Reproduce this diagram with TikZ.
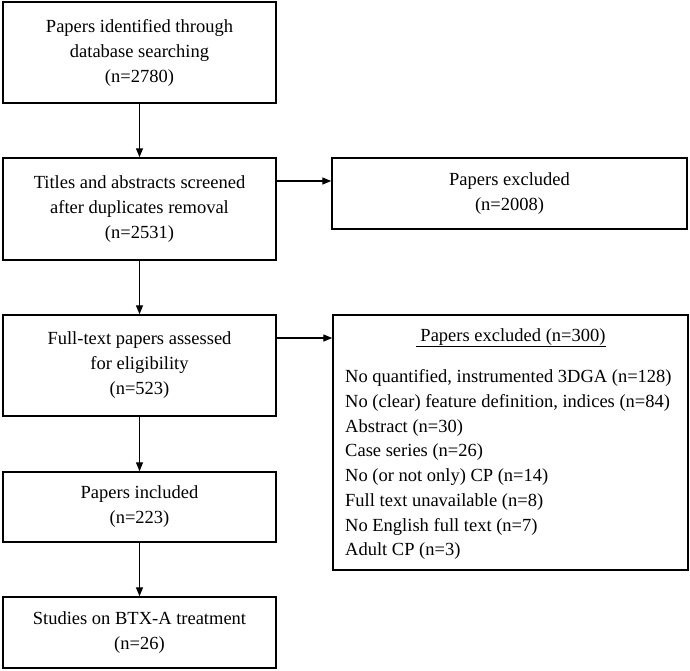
\documentclass[tikz,border=0pt]{standalone}
\usepackage{fontspec}
\setmainfont{Liberation Serif}
\usetikzlibrary{arrows.meta}
\begin{document}
\begin{tikzpicture}[x=1pt,y=-1pt,
  box/.style={draw, line width=1.5pt, rectangle, inner sep=0pt, align=center,
    font=\fontsize{18.5}{25}\selectfont},
  listtext/.style={inner sep=0pt, align=left, font=\fontsize{18.5}{24.7}\selectfont},
  arr/.style={-{Triangle[length=9pt,width=7pt]}, line width=1.4pt}]
\useasboundingbox (0,0) rectangle (690,670);
\node[box, minimum width=273pt, minimum height=101pt] (b1) at (139.5,52.5)
  {Papers identified through\\database searching\\(n=2780)};
\node[box, minimum width=273pt, minimum height=102pt] (b2) at (139.5,209)
  {Titles and abstracts screened\\after duplicates removal\\(n=2531)};
\node[box, minimum width=355pt, minimum height=71pt] (b3) at (509.5,193.5)
  {Papers excluded\\(n=2008)};
\node[box, minimum width=273pt, minimum height=101pt] (b4) at (139.5,365.5)
  {Full-text papers assessed\\for eligibility\\(n=523)};
\node[box, minimum width=355pt, minimum height=255pt] (b5) at (510.5,442.5) {};
\node[listtext, anchor=west] (b5t) at (345,444)
  {\makebox[331pt][c]{\underline{\ Papers excluded (n=300)}}\\[17pt]
   No quantified, instrumented 3DGA (n=128)\\
   No (clear) feature definition, indices (n=84)\\
   Abstract (n=30)\\
   Case series (n=26)\\
   No (or not only) CP (n=14)\\
   Full text unavailable (n=8)\\
   No English full text (n=7)\\
   Adult CP (n=3)};
\node[box, minimum width=273pt, minimum height=70pt] (b6) at (139.5,507)
  {Papers included\\(n=223)};
\node[box, minimum width=273pt, minimum height=71pt] (b7) at (139.5,632.5)
  {Studies on BTX-A treatment\\(n=26)};
\coordinate (h1) at (0,181);
\coordinate (h2) at (0,338);
\draw[arr] (b1.south) -- (b2.north);
\draw[arr] (b2.south) -- (b4.north);
\draw[arr] (b4.south) -- (b6.north);
\draw[arr] (b6.south) -- (b7.north);
\draw[arr] (b2.east |- h1) -- (b3.west |- h1);
\draw[arr] (b4.east |- h2) -- (b5.west |- h2);
\end{tikzpicture}
\end{document}
